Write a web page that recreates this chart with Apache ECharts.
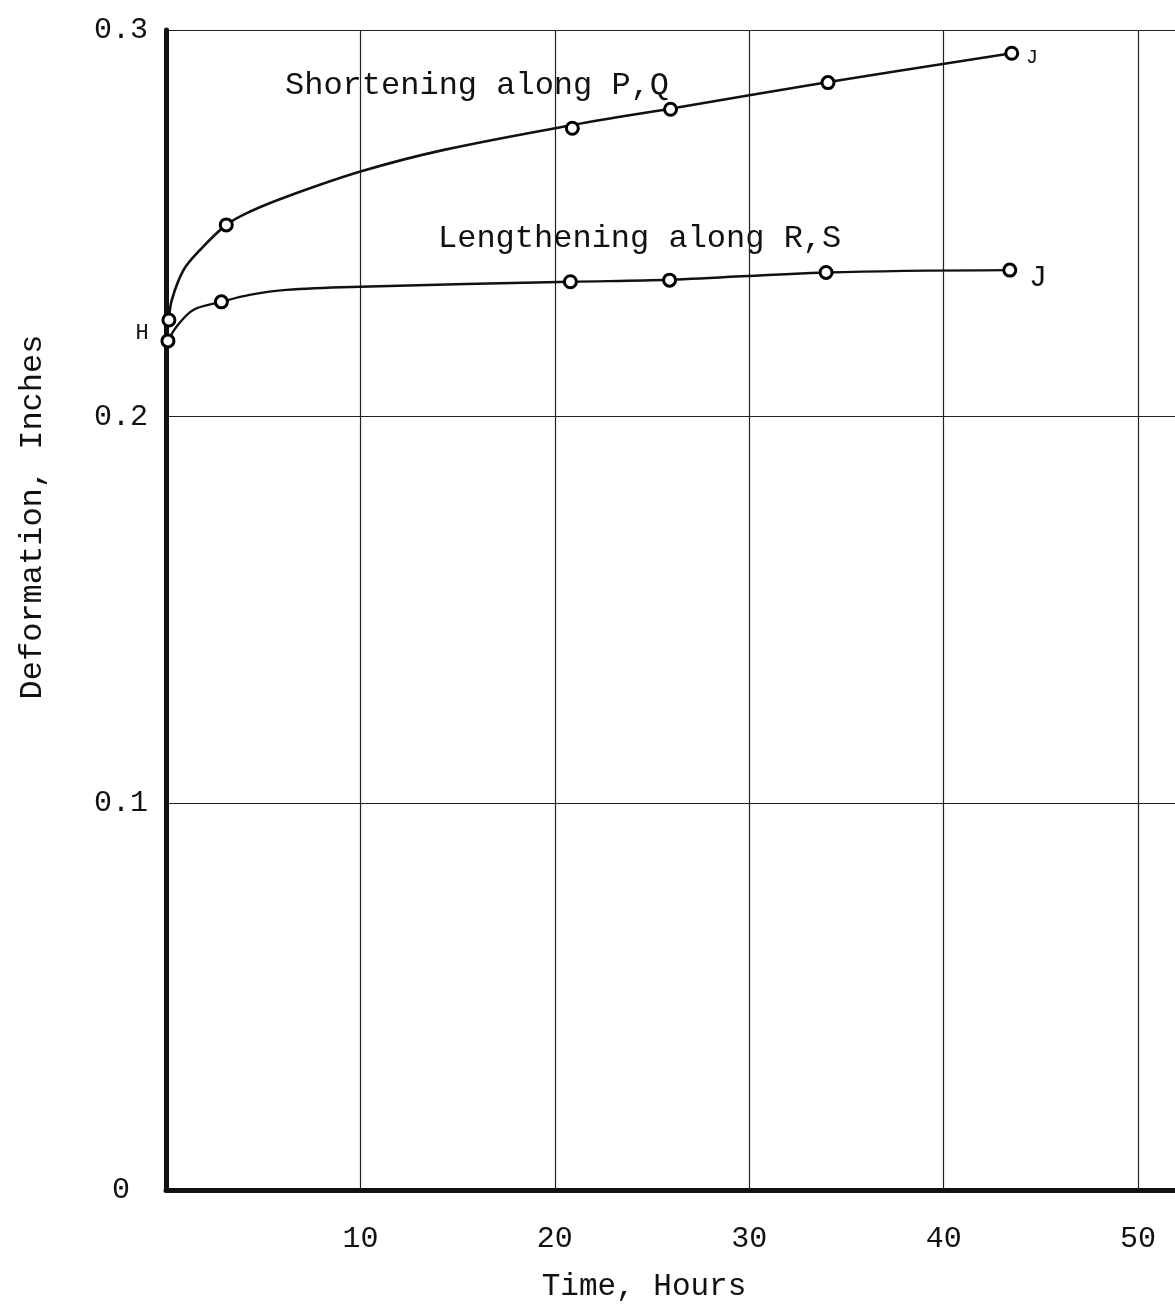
<!DOCTYPE html>
<html>
<head>
<meta charset="utf-8">
<script src="https://cdn.jsdelivr.net/npm/echarts@6/dist/echarts.min.js"></script>
<style>
html,body{margin:0;padding:0;background:#fff;overflow:hidden;}
#chart{width:1200px;height:1306px;}
</style>
</head>
<body>
<div id="chart"></div>
<script>
// Measured points (hours, inches)
const shortPts = [[0.15,0.2250],[3.1,0.2496],[20.9,0.2746],[25.95,0.2795],[34.05,0.2864],[43.5,0.2940]];
const lengthPts = [[0.1,0.2196],[2.85,0.2297],[20.8,0.2349],[25.9,0.2353],[33.95,0.2373],[43.4,0.2379]];
// Hand-drawn curves
const shortCurve = [[0.15,0.2250],[0.3,0.2302],[0.9,0.2379],[1.75,0.2431],[3.1,0.2496],[4.3,0.2530],[6.2,0.2569],[10,0.2634],[14.3,0.2690],[21,0.2755],[26,0.2797],[34,0.2865],[43.5,0.2940]];
const lengthCurve = [[0.1,0.2196],[0.55,0.2233],[1.4,0.2276],[2.85,0.2297],[4.3,0.2315],[6.2,0.2328],[10,0.2336],[20.8,0.2349],[25.9,0.2354],[34,0.2373],[43.4,0.2379]];
const xTicks = [10,20,30,40,50];
const yTicks = [0,0.1,0.2,0.3];
const labels = {
  shortening: 'Shortening along P,Q',
  lengthening: 'Lengthening along R,S',
  h: 'H', jUpper: 'J', jLower: 'J',
  xTitle: 'Time, Hours', yTitle: 'Deformation, Inches'
};

const FONT = '"Liberation Mono", "DejaVu Sans Mono", monospace';
const chart = echarts.init(document.getElementById('chart'));
const markerStyle = {color:'#fff', borderColor:'#000', borderWidth:3, opacity:1};
chart.setOption({
  backgroundColor:'#fff',
  animation:false,
  grid:{left:166, right:23, top:30, bottom:116, show:false},
  xAxis:{
    type:'value', min:0, max:52, interval:10,
    axisLine:{show:true, onZero:false, lineStyle:{color:'#111', width:5}},
    axisTick:{show:false},
    axisLabel:{margin:34, fontFamily:FONT, fontSize:30, color:'#111',
      formatter:v => xTicks.indexOf(v) >= 0 ? String(v) : ''},
    splitLine:{show:true, lineStyle:{color:'#222', width:1.2}}
  },
  yAxis:{
    type:'value', min:0, max:0.3, interval:0.1,
    axisLine:{show:true, onZero:false, lineStyle:{color:'#111', width:5}},
    axisTick:{show:false},
    axisLabel:{margin:18, fontFamily:FONT, fontSize:30, color:'#111',
      formatter:v => { const i = yTicks.findIndex(t => Math.abs(t - v) < 1e-9); if (i < 0) return ''; return yTicks[i] === 0 ? '0 ' : yTicks[i].toFixed(1); }},
    splitLine:{show:true, lineStyle:{color:'#222', width:1.2}}
  },
  series:[
    {type:'line', data:shortCurve, smooth:0.35, showSymbol:false, lineStyle:{color:'#111', width:2.6}, z:2},
    {type:'line', data:lengthCurve, smooth:0.35, showSymbol:false, lineStyle:{color:'#111', width:2.4}, z:2},
    {type:'scatter', data:shortPts, symbol:'circle', symbolSize:12, itemStyle:markerStyle, z:3},
    {type:'scatter', data:lengthPts, symbol:'circle', symbolSize:12, itemStyle:markerStyle, z:3}
  ],
  graphic:[
    {type:'text', x:285, y:86, style:{text:labels.shortening, font:'32px ' + FONT, fill:'#111', textVerticalAlign:'middle'}},
    {type:'text', x:438, y:239, style:{text:labels.lengthening, font:'32px ' + FONT, fill:'#111', textVerticalAlign:'middle'}},
    {type:'text', x:1026, y:58, style:{text:labels.jUpper, font:'20px ' + FONT, fill:'#111', textVerticalAlign:'middle'}},
    {type:'text', x:1029, y:278, style:{text:labels.jLower, font:'30px ' + FONT, fill:'#111', textVerticalAlign:'middle'}},
    {type:'text', x:142, y:333, style:{text:labels.h, font:'22px ' + FONT, fill:'#111', textAlign:'center', textVerticalAlign:'middle'}},
    {type:'text', x:644, y:1287, style:{text:labels.xTitle, font:'31px ' + FONT, fill:'#111', textAlign:'center', textVerticalAlign:'middle'}},
    {type:'text', x:33, y:517, rotation:Math.PI/2, style:{text:labels.yTitle, font:'32px ' + FONT, fill:'#111', textAlign:'center', textVerticalAlign:'middle'}}
  ]
});
</script>
</body>
</html>
